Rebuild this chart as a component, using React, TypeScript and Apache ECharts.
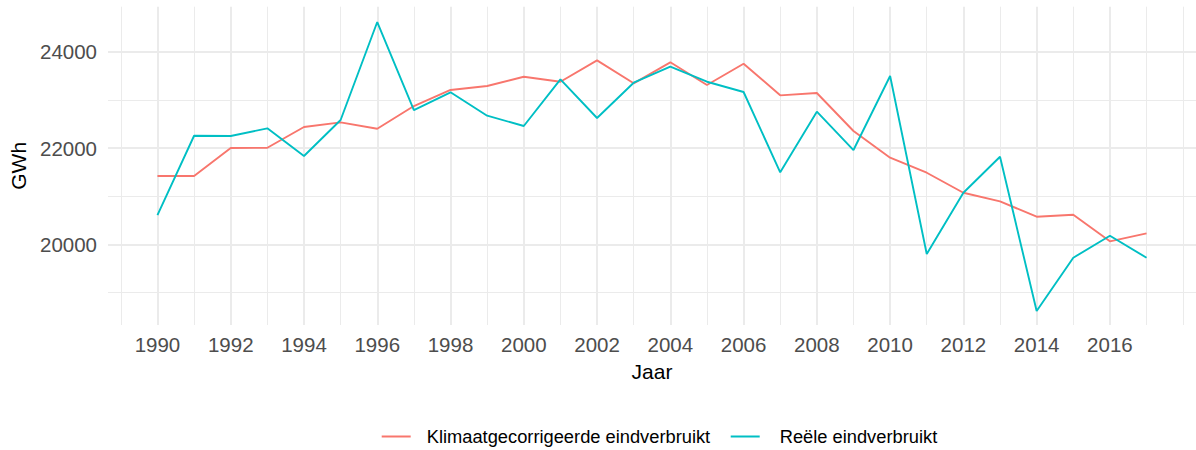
import React, { useEffect, useRef } from "react";
import * as echarts from "echarts";

const years = [1990, 1991, 1992, 1993, 1994, 1995, 1996, 1997, 1998, 1999, 2000, 2001, 2002, 2003, 2004, 2005, 2006, 2007, 2008, 2009, 2010, 2011, 2012, 2013, 2014, 2015, 2016, 2017];
const klimaat = [21418, 21418, 22000, 22005, 22436, 22533, 22401, 22872, 23205, 23288, 23481, 23377, 23821, 23344, 23780, 23308, 23751, 23094, 23142, 22353, 21798, 21487, 21071, 20893, 20573, 20614, 20062, 20228];
const reeel = [20608, 22255, 22249, 22409, 21834, 22581, 24617, 22789, 23157, 22671, 22457, 23427, 22623, 23356, 23688, 23377, 23163, 21495, 22754, 21958, 23495, 19798, 21071, 21819, 18615, 19721, 20178, 19721];
const xTickLabels = [1990, 1992, 1994, 1996, 1998, 2000, 2002, 2004, 2006, 2008, 2010, 2012, 2014, 2016];
const yTickLabels = [20000, 22000, 24000];
const xMinorGrid = [1989, 1991, 1993, 1995, 1997, 1999, 2001, 2003, 2005, 2007, 2009, 2011, 2013, 2015, 2017, 2018];
const yMinorGrid = [19000, 21000, 23000];
const seriesNames = ["Klimaatgecorrigeerde eindverbruikt", "Reële eindverbruikt"];

const FONT = "'Liberation Sans', Arial, sans-serif";

export default function App() {
  const ref = useRef<HTMLDivElement>(null);
  useEffect(() => {
    document.body.style.margin = "0";
    if (!ref.current) return;
    const chart = echarts.init(ref.current, undefined, { renderer: "svg" });
    const gridMarks: any[] = [];
    xTickLabels.forEach((v) => gridMarks.push({ xAxis: v, lineStyle: { width: 2 } }));
    xMinorGrid.forEach((v) => gridMarks.push({ xAxis: v, lineStyle: { width: 1 } }));
    yTickLabels.forEach((v) => gridMarks.push({ yAxis: v, lineStyle: { width: 2 } }));
    yMinorGrid.forEach((v) => gridMarks.push({ yAxis: v, lineStyle: { width: 1 } }));

    chart.setOption({
      animation: false,
      backgroundColor: "#ffffff",
      grid: { left: 108, top: 6.7, width: 1091.5, height: 318.3, containLabel: false },
      legend: {
        data: [
          { name: seriesNames[0], icon: "rect" },
          { name: seriesNames[1], icon: "rect", textStyle: { padding: [0, 0, 0, 15] } },
        ],
        left: 381.7,
        top: 427.5,
        padding: 0,
        itemWidth: 29,
        itemHeight: 2,
        itemGap: 20.5,
        textStyle: { fontFamily: FONT, fontSize: 18.3, color: "#000000", padding: [0, 0, 0, 11] },
      },
      xAxis: {
        type: "value",
        min: 1988.65,
        max: 2018.35,
        name: "Jaar",
        nameLocation: "middle",
        nameGap: 35.5,
        nameTextStyle: { fontFamily: FONT, fontSize: 21, color: "#000000" },
        axisLine: { show: false },
        axisTick: { show: false },
        splitLine: { show: false },
        axisLabel: {
          customValues: xTickLabels,
          formatter: (v: number) => String(v),
          fontFamily: FONT,
          fontSize: 20.5,
          color: "#4d4d4d",
          margin: 8.5,
        },
      },
      yAxis: {
        type: "value",
        min: 18324,
        max: 24935,
        name: "GWh",
        nameLocation: "middle",
        nameRotate: 90,
        nameGap: 78,
        nameTextStyle: { fontFamily: FONT, fontSize: 21, color: "#000000" },
        axisLine: { show: false },
        axisTick: { show: false },
        splitLine: { show: false },
        axisLabel: {
          customValues: yTickLabels,
          formatter: (v: number) => String(v),
          fontFamily: FONT,
          fontSize: 20.5,
          color: "#4d4d4d",
          margin: 11,
        },
      },
      series: [
        {
          type: "line",
          name: "__grid",
          data: [],
          z: 0,
          silent: true,
          markLine: {
            z: 0,
            silent: true,
            symbol: ["none", "none"],
            label: { show: false },
            emphasis: { disabled: true },
            lineStyle: { color: "#ebebeb", type: "solid" },
            data: gridMarks,
          },
        },
        {
          type: "line",
          name: seriesNames[0],
          data: years.map((y, i) => [y, klimaat[i]]),
          showSymbol: false,
          symbol: "none",
          z: 10,
          itemStyle: { color: "#F8766D" },
          lineStyle: { color: "#F8766D", width: 1.9 },
        },
        {
          type: "line",
          name: seriesNames[1],
          data: years.map((y, i) => [y, reeel[i]]),
          showSymbol: false,
          symbol: "none",
          z: 11,
          itemStyle: { color: "#00BFC4" },
          lineStyle: { color: "#00BFC4", width: 1.9 },
        },
      ],
    });
    return () => chart.dispose();
  }, []);
  return <div ref={ref} style={{ width: 1196, height: 450 }} />;
}
